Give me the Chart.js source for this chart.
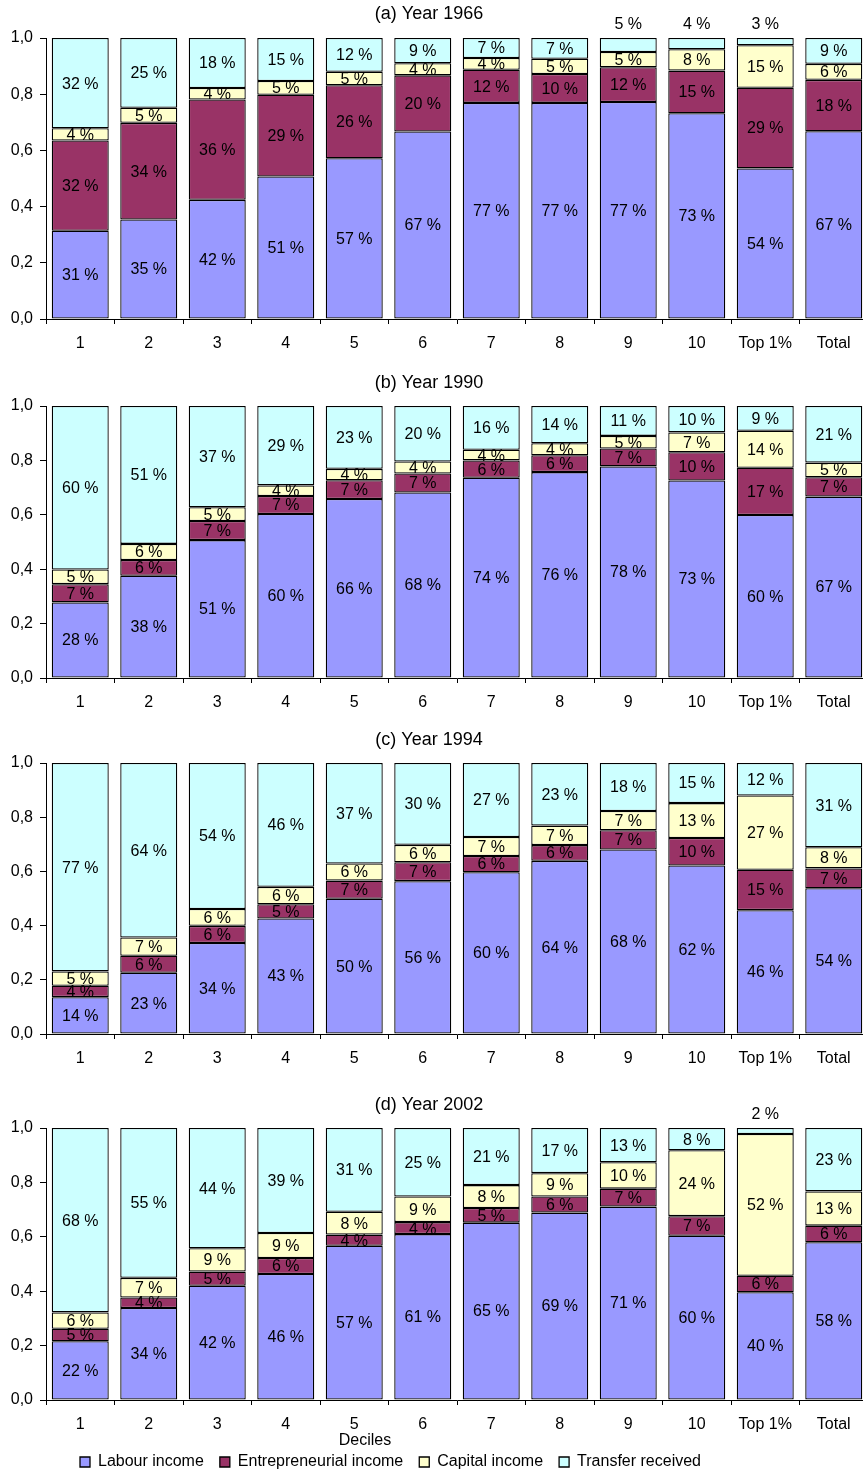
<!DOCTYPE html>
<html>
<head>
<meta charset="utf-8">
<script src="https://cdn.jsdelivr.net/npm/chart.js@4.4.1/dist/chart.umd.min.js"></script>
<style>
html,body{margin:0;padding:0;background:#fff;overflow:hidden;width:863px;height:1472px;position:relative;}
.p{position:absolute;left:0;}
canvas{display:block;}
</style>
</head>
<body>
<div class="p" style="top:1px"><canvas id="c1" width="868" height="358"></canvas></div>
<div class="p" style="top:370px"><canvas id="c2" width="868" height="357"></canvas></div>
<div class="p" style="top:727px"><canvas id="c3" width="868" height="365"></canvas></div>
<div class="p" style="top:1092px"><canvas id="c4" width="868" height="388"></canvas></div>
<script>
// ---- Data ----
const categories = ['1','2','3','4','5','6','7','8','9','10','Top 1%','Total'];
const seriesNames = ['Labour income','Entrepreneurial income','Capital income','Transfer received'];
const yTicks = [0, 0.2, 0.4, 0.6, 0.8, 1.0];

// (a) Year 1966
const labour1966   = [0.314,0.354,0.424,0.507,0.572,0.667,0.769,0.769,0.772,0.732,0.536,0.668];
const entre1966    = [0.321,0.344,0.357,0.291,0.260,0.200,0.118,0.103,0.124,0.152,0.287,0.183];
const capital1966  = [0.044,0.054,0.041,0.049,0.048,0.043,0.042,0.054,0.054,0.076,0.151,0.057];
const transfer1966 = [0.321,0.248,0.178,0.153,0.120,0.090,0.071,0.074,0.050,0.040,0.026,0.092];

// (b) Year 1990
const labour1990   = [0.278,0.376,0.507,0.603,0.658,0.682,0.736,0.757,0.778,0.726,0.599,0.667];
const entre1990    = [0.067,0.058,0.070,0.066,0.069,0.070,0.064,0.062,0.066,0.104,0.174,0.071];
const capital1990  = [0.054,0.059,0.051,0.039,0.042,0.044,0.039,0.044,0.046,0.073,0.136,0.054];
const transfer1990 = [0.601,0.507,0.372,0.292,0.231,0.204,0.161,0.137,0.110,0.097,0.091,0.208];

// (c) Year 1994
const labour1994   = [0.136,0.226,0.336,0.426,0.499,0.564,0.597,0.639,0.681,0.622,0.457,0.538];
const entre1994    = [0.042,0.063,0.063,0.053,0.067,0.070,0.060,0.058,0.071,0.101,0.149,0.073];
const capital1994  = [0.053,0.067,0.062,0.064,0.063,0.064,0.070,0.072,0.071,0.129,0.274,0.078];
const transfer1994 = [0.769,0.644,0.539,0.457,0.371,0.302,0.273,0.231,0.177,0.148,0.120,0.311];

// (d) Year 2002
const labour2002   = [0.216,0.338,0.420,0.463,0.567,0.610,0.652,0.689,0.711,0.604,0.396,0.580];
const entre2002    = [0.046,0.039,0.052,0.059,0.041,0.044,0.054,0.059,0.066,0.072,0.061,0.061];
const capital2002  = [0.060,0.072,0.086,0.092,0.084,0.094,0.084,0.086,0.097,0.242,0.521,0.126];
const transfer2002 = [0.678,0.551,0.442,0.386,0.308,0.252,0.210,0.166,0.126,0.082,0.022,0.233];

// ---- Styling ----
const FONT = '"Liberation Sans", Arial, Helvetica, sans-serif';
Chart.defaults.font.family = FONT;
Chart.defaults.font.size = 16;
Chart.defaults.color = '#000';
const colors = ['#9999FF','#993366','#FFFFCC','#CCFFFF'];

const valueLabels = {
  id: 'valueLabels',
  afterDatasetsDraw(chart) {
    const ctx = chart.ctx;
    ctx.save();
    ctx.font = '16px ' + FONT;
    ctx.fillStyle = '#000';
    ctx.textAlign = 'center';
    ctx.textBaseline = 'middle';
    const n = chart.data.datasets.length;
    chart.data.datasets.forEach((ds, di) => {
      const meta = chart.getDatasetMeta(di);
      meta.data.forEach((el, i) => {
        const v = ds.data[i];
        const txt = Math.round(v * 100) + ' %';
        let y = (el.y + el.base) / 2 + 1;
        if (di === n - 1 && v < 0.06) y = chart.chartArea.top - 13;
        ctx.fillText(txt, el.x, y);
      });
    });
    ctx.restore();
  }
};

const shiftBlocks = {
  id: 'shiftBlocks',
  afterLayout(chart) {
    if (chart.titleBlock) { chart.titleBlock.left = 0; chart.titleBlock.right = 858; }
    const o = chart.options.plugins.shiftBlocks || {};
    if (o.legendLeft !== undefined && chart.legend) { chart.legend.left = o.legendLeft; }
  },
  afterDraw(chart) {
    const o = chart.options.plugins.shiftBlocks || {};
    if (o.axisTitle) {
      const ctx = chart.ctx;
      ctx.save();
      ctx.font = '16px ' + FONT;
      ctx.fillStyle = '#000';
      ctx.textAlign = 'center';
      ctx.textBaseline = 'middle';
      ctx.fillText(o.axisTitle, o.axisTitleX, o.axisTitleY);
      ctx.restore();
    }
  }
};

function makePanel(id, title, series, cfg) {
  const datasets = series.map((d, k) => ({
    label: seriesNames[k],
    data: d,
    backgroundColor: colors[k],
    borderColor: '#000',
    borderWidth: 1.3,
    borderSkipped: false,
    categoryPercentage: 1.0,
    barPercentage: 0.832
  }));
  return new Chart(document.getElementById(id), {
    type: 'bar',
    data: { labels: categories, datasets },
    plugins: [valueLabels, shiftBlocks],
    options: {
      responsive: false,
      animation: false,
      devicePixelRatio: 1,
      layout: { padding: 0 },
      plugins: {
        title: {
          display: true, text: title, color: '#000',
          font: { size: 18, weight: 'normal', family: FONT },
          padding: { top: cfg.tPadTop, bottom: cfg.tPadBottom }
        },
        legend: cfg.legend ? {
          display: true, position: 'bottom', align: 'start',
          labels: { boxWidth: 10, boxHeight: 10, padding: 16, color: '#000', font: { size: 16, family: FONT } }
        } : { display: false },
        tooltip: { enabled: false },
        shiftBlocks: cfg.shift || {}
      },
      scales: {
        x: {
          stacked: true,
          offset: true,
          grid: { display: true, drawOnChartArea: false, drawTicks: true, tickLength: 5, color: '#000', offset: true },
          border: { display: true, color: '#000', width: 1 },
          ticks: { color: '#000', font: { size: 16 }, padding: 10, maxRotation: 0, autoSkip: false },
          afterFit(s) { s.height = cfg.xH; }
        },
        y: {
          stacked: true,
          min: 0, max: 1,
          afterBuildTicks(s) { s.ticks = yTicks.map(v => ({ value: v })); },
          ticks: { color: '#000', font: { size: 16 }, padding: 7,
                   callback: v => Number(v).toFixed(1).replace('.', ',') },
          grid: { display: true, drawOnChartArea: false, drawTicks: true, tickLength: 6, color: '#000' },
          border: { display: true, color: '#000', width: 1 },
          afterFit(s) { s.width = 46; }
        }
      }
    }
  });
}

makePanel('c1', '(a) Year 1966', [labour1966, entre1966, capital1966, transfer1966],
  { tPadTop: 2, tPadBottom: 13.4, xH: 40 });
makePanel('c2', '(b) Year 1990', [labour1990, entre1990, capital1990, transfer1990],
  { tPadTop: 2.2, tPadBottom: 12.2, xH: 49 });
makePanel('c3', '(c) Year 1994', [labour1994, entre1994, capital1994, transfer1994],
  { tPadTop: 2.2, tPadBottom: 12.2, xH: 58 });
makePanel('c4', '(d) Year 2002', [labour2002, entre2002, capital2002, transfer2002],
  { tPadTop: 2.2, tPadBottom: 12.2, xH: 38, legend: true,
    shift: { legendLeft: 64, axisTitle: 'Deciles', axisTitleX: 365, axisTitleY: 349 } });
</script>
</body>
</html>
